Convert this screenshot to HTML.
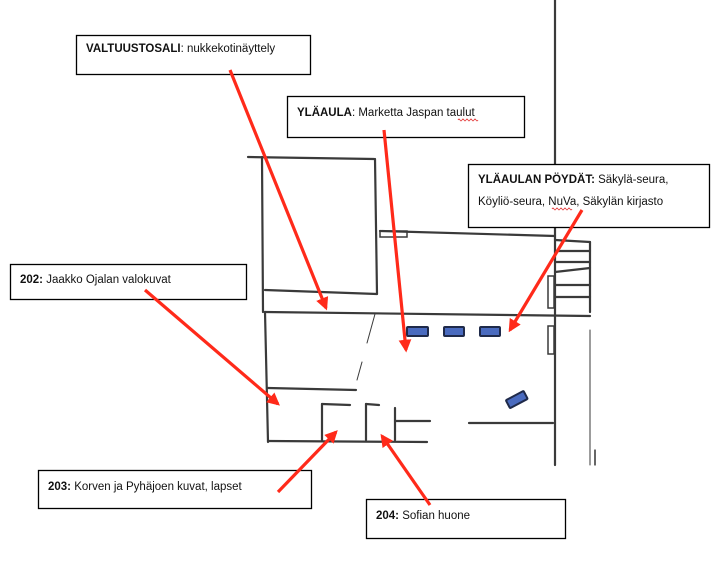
<!DOCTYPE html>
<html><head><meta charset="utf-8"><style>
html,body{margin:0;padding:0;background:#fff;}
svg{display:block;}
text{font-family:"Liberation Sans",sans-serif;font-size:11.5px;fill:#111;}
.b{font-weight:bold;}
</style></head><body>
<svg width="715" height="569" viewBox="0 0 715 569" xmlns="http://www.w3.org/2000/svg">
<g stroke="#3a3a3a" stroke-width="2.2" fill="none" stroke-linecap="round">
<line x1="555" y1="0" x2="555" y2="465"/>
<line x1="248" y1="157" x2="374" y2="159"/>
<line x1="262" y1="157" x2="263" y2="312"/>
<line x1="265" y1="312" x2="268" y2="442"/>
<line x1="375" y1="159" x2="377" y2="294"/>
<line x1="265" y1="290" x2="377" y2="294"/>
<line x1="380" y1="231" x2="555" y2="236"/>
<rect x="380" y="231" width="27" height="6" stroke-width="1.5"/>
<line x1="265" y1="312" x2="590" y2="316"/>
<line x1="268" y1="388" x2="356" y2="390"/>
<line x1="268" y1="441" x2="427" y2="442"/>
<line x1="322" y1="404" x2="322" y2="440"/>
<line x1="322" y1="404" x2="350" y2="405"/>
<line x1="366" y1="404" x2="366" y2="440"/>
<line x1="366" y1="404" x2="379" y2="405"/>
<line x1="395" y1="408" x2="395" y2="440"/>
<line x1="395" y1="421" x2="430" y2="421"/>
<line x1="469" y1="423" x2="553" y2="423"/>
<line x1="375" y1="314" x2="367" y2="343" stroke-width="1"/>
<line x1="362" y1="362" x2="357" y2="380" stroke-width="1"/>
<line x1="555" y1="240" x2="590" y2="242"/>
<line x1="590" y1="242" x2="590" y2="312"/>
<line x1="555" y1="251" x2="590" y2="251"/>
<line x1="555" y1="262" x2="590" y2="262"/>
<line x1="555" y1="272" x2="590" y2="268"/>
<line x1="555" y1="285" x2="590" y2="285"/>
<line x1="555" y1="297" x2="590" y2="297"/>
<rect x="548" y="276" width="6" height="32" stroke-width="1.5"/>
<rect x="548" y="326" width="6" height="28" stroke-width="1.5"/>
<line x1="590" y1="330" x2="590" y2="465" stroke-width="1"/>
<line x1="595" y1="450" x2="595" y2="465" stroke-width="1.2" stroke="#000"/>
</g>
<g fill="#4a6bbf" stroke="#1f2a4a" stroke-width="2">
<rect x="407" y="327" width="21" height="9" rx="1"/>
<rect x="444" y="327" width="20" height="9" rx="1"/>
<rect x="480" y="327" width="20" height="9" rx="1"/>
<rect x="507" y="395" width="20" height="9" rx="1" transform="rotate(-28 517 400)"/>
</g>
<g fill="#fff" stroke="#000" stroke-width="1.3">
<rect x="76.5" y="35.5" width="234" height="39"/>
<rect x="287.5" y="96.5" width="237" height="41"/>
<rect x="468.5" y="164.5" width="241" height="63"/>
<rect x="10.5" y="264.5" width="236" height="35"/>
<rect x="38.5" y="470.5" width="273" height="38"/>
<rect x="366.5" y="499.5" width="199" height="39"/>
</g>
<defs><marker id="a" viewBox="0 0 10 10" refX="8" refY="5" markerWidth="4" markerHeight="4" orient="auto"><path d="M0,0 L10,5 L0,10 z" fill="#ff2a1a"/></marker></defs>
<g stroke="#ff2a1a" stroke-width="3.2" marker-end="url(#a)">
<line x1="230" y1="70" x2="326" y2="308"/>
<line x1="384" y1="130" x2="406" y2="350"/>
<line x1="582" y1="210" x2="510" y2="330"/>
<line x1="145" y1="290" x2="278" y2="404"/>
<line x1="278" y1="492" x2="336" y2="432"/>
<line x1="430" y1="505" x2="382" y2="436"/>
</g>
<text x="86" y="52"><tspan class="b">VALTUUSTOSALI</tspan>: nukkekotinäyttely</text>
<text x="297" y="116"><tspan class="b">YLÄAULA</tspan>: Marketta Jaspan taulut</text>
<text x="478" y="183"><tspan class="b">YLÄAULAN PÖYDÄT:</tspan> Säkylä-seura,</text>
<text x="478" y="205">Köyliö-seura, NuVa, Säkylän kirjasto</text>
<text x="20" y="283"><tspan class="b">202:</tspan> Jaakko Ojalan valokuvat</text>
<text x="48" y="490"><tspan class="b">203:</tspan> Korven ja Pyhäjoen kuvat, lapset</text>
<text x="376" y="519"><tspan class="b">204:</tspan> Sofian huone</text>
<g stroke="#e02020" stroke-width="0.8" fill="none">
<path d="M458,120 q1,-2 2,0 t2,0 t2,0 t2,0 t2,0 t2,0 t2,0 t2,0 t2,0 t2,0"/>
<path d="M552,209 q1,-2 2,0 t2,0 t2,0 t2,0 t2,0 t2,0 t2,0 t2,0 t2,0 t2,0"/>
</g>
</svg>
</body></html>
